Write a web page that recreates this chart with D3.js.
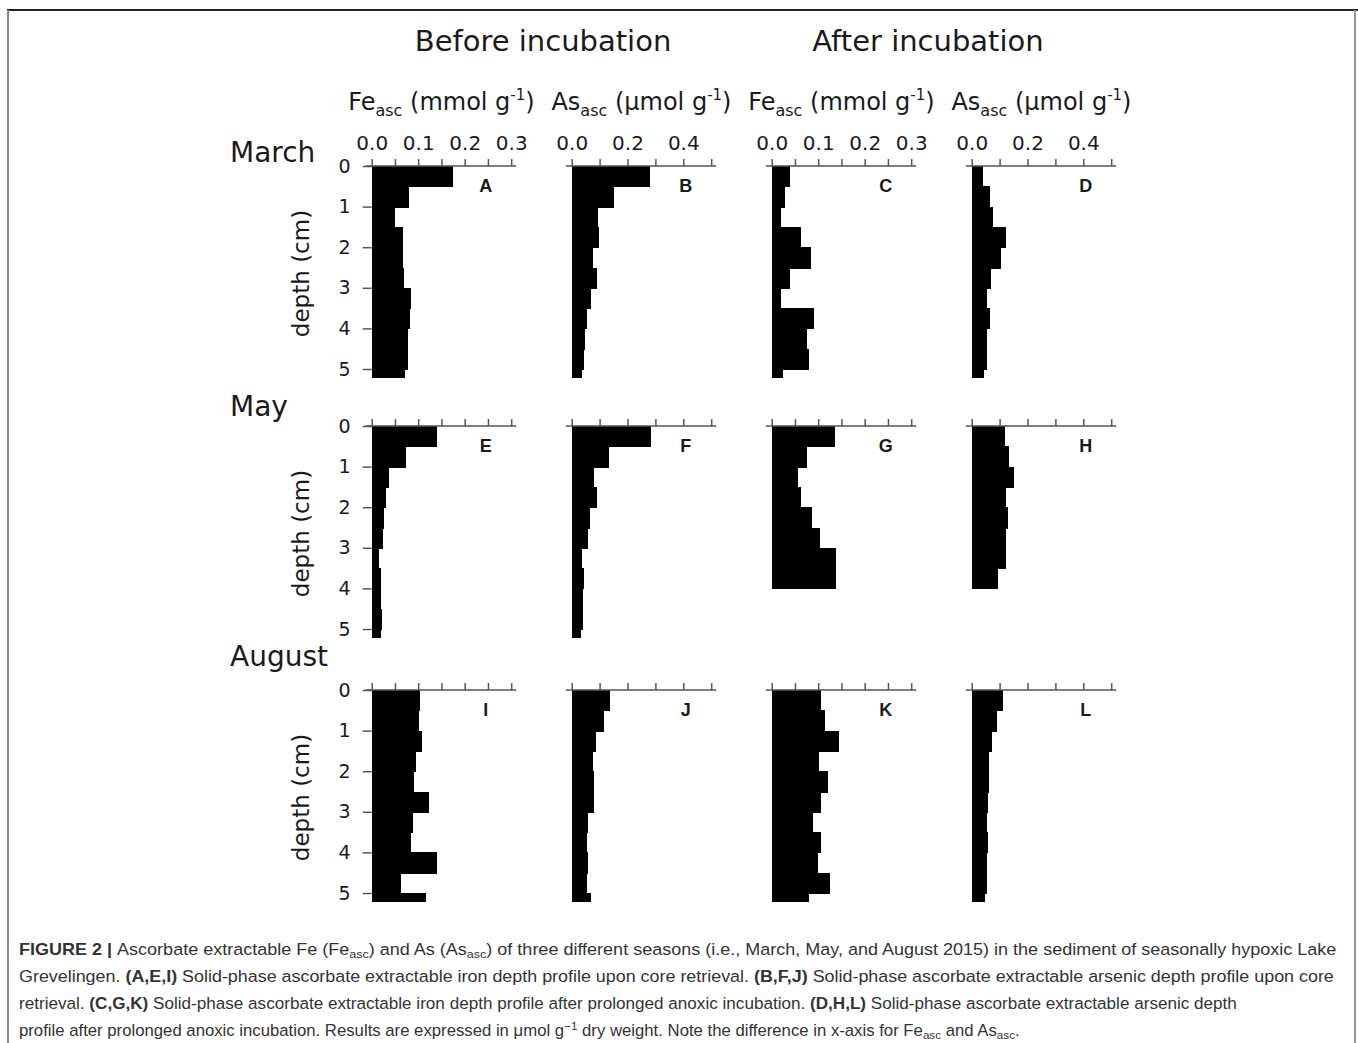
<!doctype html>
<html>
<head>
<meta charset="UTF-8">
<title>Fe asc / As asc depth profiles</title>
<script src="https://cdn.jsdelivr.net/npm/d3@7"></script>
<style>
    body { margin: 0; background: #fff; }
    svg text { font-family: "DejaVu Sans", Verdana, sans-serif; fill: #1a1a1a; }
    .tick line { stroke: #555; stroke-width: 1.5; }
    .axisline { stroke: #555; stroke-width: 1.5; }
    .bar { fill: #000; shape-rendering: crispEdges; }
    .caption text { font-family: "Liberation Sans", Arial, sans-serif; fill: #333; }
</style>
</head>
<body>
<svg id="fig" width="1358" height="1043"></svg>
<script>
// depth interval edges (cm)
var depthEdges = [0, 0.5, 1, 1.5, 2, 2.5, 3, 3.5, 4, 4.5, 5, 5.2];
var depthTicks = [0, 1, 2, 3, 4, 5];

// Fe ticks (mmol/g) and As ticks (umol/g)
var feTicks = [0, 0.05, 0.1, 0.15, 0.2, 0.25, 0.3];
var feLabels = [0, 0.1, 0.2, 0.3];
var asTicks = [0, 0.1, 0.2, 0.3, 0.4, 0.5];
var asLabels = [0, 0.2, 0.4];

var months = ["March", "May", "August"];
var letters = ["A", "B", "C", "D", "E", "F", "G", "H", "I", "J", "K", "L"];

// values per depth interval
var feMarchBefore = [0.174, 0.081, 0.051, 0.068, 0.068, 0.070, 0.084, 0.082, 0.077, 0.079, 0.072];
var asMarchBefore = [0.282, 0.150, 0.096, 0.097, 0.076, 0.090, 0.070, 0.054, 0.048, 0.044, 0.038];
var feMarchAfter  = [0.039, 0.029, 0.019, 0.064, 0.084, 0.039, 0.019, 0.091, 0.075, 0.081, 0.025];
var asMarchAfter  = [0.042, 0.066, 0.075, 0.122, 0.105, 0.068, 0.054, 0.066, 0.054, 0.056, 0.044];

var feMayBefore = [0.141, 0.074, 0.038, 0.030, 0.027, 0.025, 0.016, 0.021, 0.021, 0.023, 0.021];
var asMayBefore = [0.286, 0.134, 0.080, 0.090, 0.066, 0.060, 0.037, 0.043, 0.042, 0.042, 0.032];
var feMayAfter  = [0.136, 0.076, 0.057, 0.062, 0.086, 0.104, 0.138, 0.139];
var asMayAfter  = [0.120, 0.135, 0.150, 0.122, 0.129, 0.123, 0.122, 0.093];

var feAugBefore = [0.104, 0.102, 0.109, 0.096, 0.091, 0.123, 0.088, 0.084, 0.141, 0.063, 0.116];
var asAugBefore = [0.138, 0.114, 0.086, 0.078, 0.080, 0.080, 0.058, 0.054, 0.060, 0.056, 0.068];
var feAugAfter  = [0.107, 0.114, 0.144, 0.101, 0.121, 0.105, 0.088, 0.105, 0.100, 0.126, 0.080];
var asAugAfter  = [0.111, 0.090, 0.074, 0.062, 0.062, 0.057, 0.054, 0.060, 0.056, 0.054, 0.046];

var series = [
    [feMarchBefore, asMarchBefore, feMarchAfter, asMarchAfter],
    [feMayBefore, asMayBefore, feMayAfter, asMayAfter],
    [feAugBefore, asAugBefore, feAugAfter, asAugAfter]
];
var colKind = ["Fe", "As", "Fe", "As"];

// layout
var svg = d3.select("#fig");
var colX = [371.7, 571.7, 771.7, 971.7];
var rowY = [166, 426, 690];
var rowLabelY = [162, 416, 666];
var panelW = 139.5, depthH = 203;

// frame
svg.append("line").attr("x1", 7).attr("x2", 1358).attr("y1", 10).attr("y2", 10)
    .style("stroke", "#222").style("stroke-width", 2);
svg.append("line").attr("x1", 8).attr("x2", 8).attr("y1", 10).attr("y2", 1043)
    .style("stroke", "#888").style("stroke-width", 2);
svg.append("line").attr("x1", 1355).attr("x2", 1355).attr("y1", 10).attr("y2", 1043)
    .style("stroke", "#999").style("stroke-width", 2);

// headers
svg.append("text").attr("x", 543).attr("y", 51).attr("text-anchor", "middle")
    .style("font-size", "29px").text("Before incubation");
svg.append("text").attr("x", 928).attr("y", 51).attr("text-anchor", "middle")
    .style("font-size", "29px").text("After incubation");

function unitLabel(x, kind) {
    var t = svg.append("text").attr("x", x).attr("y", 110).attr("text-anchor", "middle")
        .style("font-size", "24px");
    t.append("tspan").text(kind);
    t.append("tspan").attr("dy", 6).style("font-size", "16px").text("asc");
    t.append("tspan").attr("dy", -6).text(kind == "Fe" ? " (mmol g" : " (\u03bcmol g");
    t.append("tspan").attr("dy", -10).style("font-size", "15px").text("-1");
    t.append("tspan").attr("dy", 10).text(")");
}
colX.forEach(function(x, i) { unitLabel(x + panelW / 2, colKind[i]); });

months.forEach(function(m, r) {
    svg.append("text").attr("x", 230).attr("y", rowLabelY[r])
        .style("font-size", "28px").text(m);
    svg.append("text")
        .attr("transform", "translate(309," + (rowY[r] + depthH / 2 + 6) + ") rotate(-90)")
        .attr("text-anchor", "middle").style("font-size", "23px").text("depth (cm)");
});

series.forEach(function(rowSeries, r) {
    var y = d3.scaleLinear().domain([0, 5]).range([rowY[r], rowY[r] + depthH]);

    rowSeries.forEach(function(vals, c) {
        var isFe = colKind[c] == "Fe";
        var x = d3.scaleLinear().domain(isFe ? [0, 0.3] : [0, 0.5])
            .range([colX[c], colX[c] + panelW]);
        var g = svg.append("g");

        // bars (slight overlap so neighbouring layers join)
        g.selectAll(".bar").data(vals).enter().append("rect")
            .attr("class", "bar")
            .attr("x", x(0))
            .attr("y", function(d, i) { return y(depthEdges[i]); })
            .attr("width", function(d) { return x(d) - x(0); })
            .attr("height", function(d, i) { return y(depthEdges[i + 1]) - y(depthEdges[i]) + 1; });

        // x axis on top
        var labelled = isFe ? feLabels : asLabels;
        var ax = d3.axisTop(x).tickValues(isFe ? feTicks : asTicks)
            .tickSize(7).tickSizeOuter(0).tickPadding(9)
            .tickFormat(function(d) {
                if (r > 0) return "";
                return labelled.some(function(v) { return Math.abs(v - d) < 1e-9; }) ? d3.format(".1f")(d) : "";
            });
        var axg = g.append("g").attr("transform", "translate(0," + rowY[r] + ")").call(ax);
        axg.select(".domain").remove();
        axg.selectAll("text").style("font-size", "20px").style("fill", "#1a1a1a");
        g.append("line").attr("class", "axisline")
            .attr("x1", x(0) - 6).attr("x2", x.range()[1] + 5)
            .attr("y1", rowY[r]).attr("y2", rowY[r]);

        // depth axis only on the first column
        if (c == 0) {
            var ay = d3.axisLeft(y).tickValues(depthTicks).tickSize(9).tickPadding(12)
                .tickFormat(d3.format("d"));
            var ayg = g.append("g").attr("transform", "translate(" + x(0) + ",0)").call(ay);
            ayg.select(".domain").remove();
            ayg.selectAll("text").style("font-size", "19px").style("fill", "#1a1a1a");
        }

        g.append("text").attr("x", x(0) + 114).attr("y", rowY[r] + 26)
            .attr("text-anchor", "middle")
            .style("font-family", "'Liberation Sans', Arial, sans-serif")
            .style("font-weight", "bold").style("font-size", "18px")
            .text(letters[r * 4 + c]);
    });
});

// caption
var captionLines = [
    [["FIGURE 2 | ", "b"], ["Ascorbate extractable Fe (Fe"], ["asc", "sub"], [") and As (As"], ["asc", "sub"],
     [") of three different seasons (i.e., March, May, and August 2015) in the sediment of seasonally hypoxic Lake"]],
    [["Grevelingen. "], ["(A,E,I)", "b"], [" Solid-phase ascorbate extractable iron depth profile upon core retrieval. "],
     ["(B,F,J)", "b"], [" Solid-phase ascorbate extractable arsenic depth profile upon core"]],
    [["retrieval. "], ["(C,G,K)", "b"], [" Solid-phase ascorbate extractable iron depth profile after prolonged anoxic incubation. "],
     ["(D,H,L)", "b"], [" Solid-phase ascorbate extractable arsenic depth"]],
    [["profile after prolonged anoxic incubation. Results are expressed in \u03bcmol g"], ["\u22121", "sup"],
     [" dry weight. Note the difference in x-axis for Fe"], ["asc", "sub"], [" and As"], ["asc", "sub"], ["."]]
];
var captionWidths = [1318, 1316, 1219, 1001];
var cap = svg.append("g").attr("class", "caption");
captionLines.forEach(function(segs, li) {
    var lg = cap.append("g");
    var t = lg.append("text").attr("x", 0).attr("y", 0).style("font-size", "16.5px");
    var shift = 0;
    segs.forEach(function(s) {
        var sp = t.append("tspan");
        var want = s[1] == "sub" ? 3 : s[1] == "sup" ? -6 : 0;
        sp.attr("dy", want - shift);
        shift = want;
        if (s[1] == "b") sp.style("font-weight", "bold");
        if (s[1] == "sub" || s[1] == "sup") sp.style("font-size", "11.5px");
        sp.text(s[0]);
    });
    var w = t.node().getComputedTextLength();
    lg.attr("transform", "translate(19," + (955 + li * 27) + ") scale(" + (captionWidths[li] / w) + ",1)");
});
</script>
</body>
</html>
